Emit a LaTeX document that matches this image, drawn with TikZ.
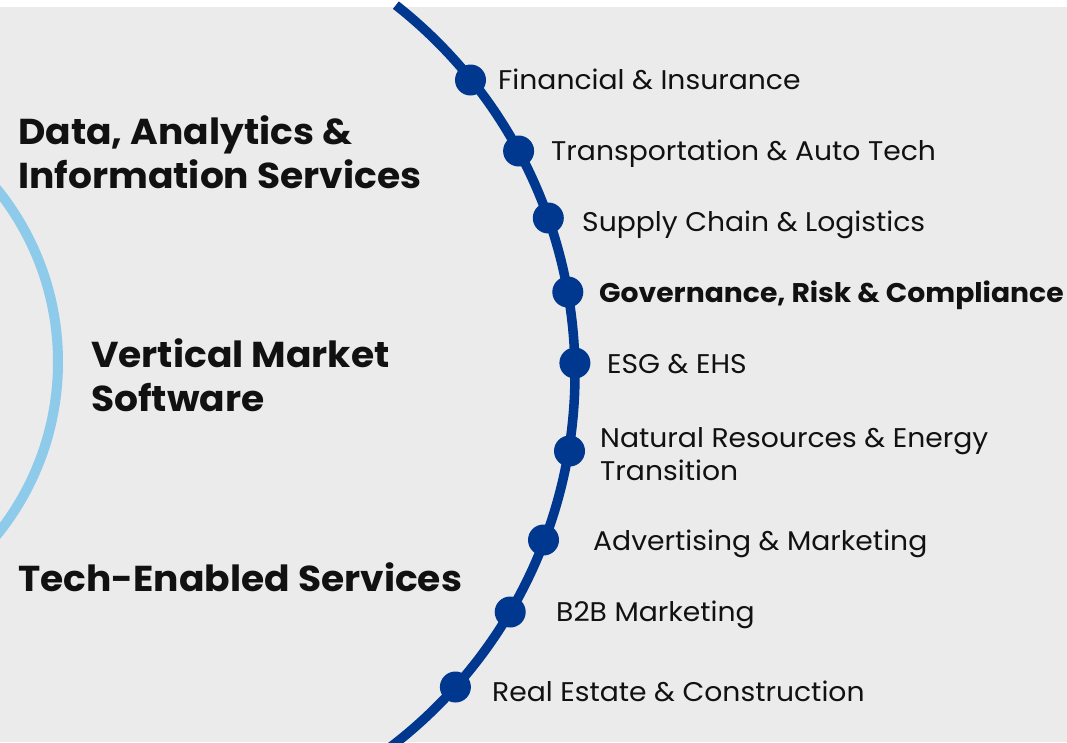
\documentclass[tikz,border=0pt]{standalone}
\usepackage{fontspec}
\usetikzlibrary{calc}
\setmainfont[FakeStretch=1.045]{Poppins}
\definecolor{bgray}{HTML}{EBEBEB}
\definecolor{dblue}{HTML}{00378F}
\definecolor{lblue}{HTML}{8ECAEA}
\definecolor{ink}{HTML}{111111}
\begin{document}
\begin{tikzpicture}[x=1pt,y=-1pt,
  dot/.style={circle,fill=dblue,minimum size=31pt,inner sep=0pt},
  item/.style={anchor=base west,inner sep=0pt,text=ink,font=\fontsize{27}{33}\selectfont,align=left},
  head/.style={anchor=base west,inner sep=0pt,text=ink,font=\fontsize{36}{44}\selectfont\bfseries,align=left}]
\useasboundingbox (0,0) rectangle (1067,742);
\fill[white] (0,0) rectangle (1067,742);
\fill[bgray] (0,7) rectangle (1067,742);
\begin{scope}
\clip (0,0) rectangle (1067,742);
% light blue arc
\coordinate (lc) at (-217,362);
\draw[lblue,line width=10pt] (lc) circle[radius=275];
% dark blue arc
\coordinate (dc) at (105.6,374);
\draw[dblue,line width=9.5pt] ($(dc)+(-51.8:469.4)$) arc[start angle=-51.8,end angle=55,radius=469.4];
\end{scope}
% dots
\node[dot] (d1) at (470.5,80) {};
\node[dot] (d2) at (518.6,151) {};
\node[dot] (d3) at (548.3,218) {};
\node[dot] (d4) at (567.8,292) {};
\node[dot] (d5) at (574.9,363) {};
\node[dot] (d6) at (569.5,451) {};
\node[dot] (d7) at (543.5,540) {};
\node[dot] (d8) at (510.2,612) {};
\node[dot] (d9) at (455.4,687) {};
% labels
\node[item] (t1) at (498,89) {Financial \& Insurance};
\node[item] (t2) at (551,160) {Transportation \& Auto Tech};
\node[item] (t3) at (582,231) {Supply Chain \& Logistics};
\node[item,font=\fontsize{27}{33}\selectfont\bfseries] (t4) at (599,302) {Governance, Risk \& Compliance};
\node[item] (t5) at (607,373) {ESG \& EHS};
\node[item] (t6) at (600,480) {Natural Resources \& Energy\\Transition};
\node[item] (t7) at (593,550) {Advertising \& Marketing};
\node[item] (t8) at (556,621) {B2B Marketing};
\node[item] (t9) at (492,701) {Real Estate \& Construction};
% headings
\node[head] (h1) at (18,188) {Data, Analytics \&\\Information Services};
\node[head] (h2) at (91,411) {Vertical Market\\Software};
\node[head] (h3) at (18,591) {Tech-Enabled Services};
\end{tikzpicture}
\end{document}
